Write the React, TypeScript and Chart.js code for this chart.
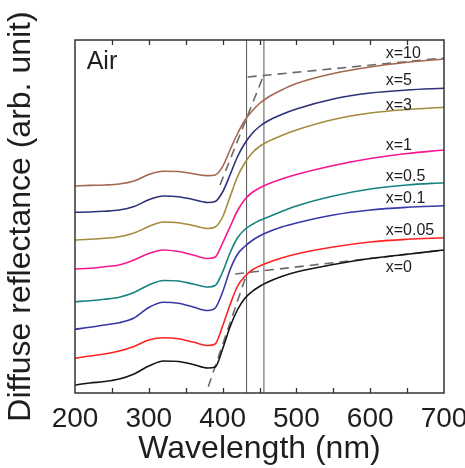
import React, { useEffect, useRef } from "react";
import { Chart, registerables } from "chart.js";

Chart.register(...registerables);

// Wavelength grid (nm)
const WAVELENGTH = [200, 220, 240, 260, 280, 300, 320, 340, 360, 380, 390, 400, 410, 420, 430, 440, 450, 460, 480, 500, 550, 600, 650, 700];

// Diffuse reflectance (arb. unit), curves stacked with offsets
const X10 = [20.7, 20.76, 20.8, 20.9, 21.2, 21.85, 22.17, 22.15, 21.92, 21.74, 21.8, 22.63, 24.3, 25.9, 27.25, 28.2, 28.95, 29.5, 30.3, 30.95, 31.95, 32.6, 33.07, 33.4];
const X5 = [18.07, 18.1, 18.17, 18.3, 18.65, 19.32, 19.7, 19.63, 19.35, 19.05, 19.15, 20.1, 21.8, 23.6, 24.95, 25.95, 26.65, 27.15, 27.85, 28.4, 29.4, 30.0, 30.3, 30.47];
const X3 = [15.3, 15.37, 15.47, 15.63, 16.0, 16.65, 17.1, 17.03, 16.75, 16.45, 16.6, 17.6, 19.6, 21.6, 23.0, 24.0, 24.65, 25.1, 25.75, 26.3, 27.35, 28.0, 28.35, 28.57];
const X1 = [12.4, 12.47, 12.63, 12.8, 13.3, 13.95, 14.3, 14.15, 13.8, 13.45, 13.6, 15.0, 16.6, 18.2, 19.35, 20.05, 20.5, 20.85, 21.4, 21.85, 22.75, 23.45, 23.95, 24.3];
const X05 = [9.13, 9.23, 9.37, 9.57, 10.05, 10.8, 11.25, 11.2, 10.9, 10.6, 10.75, 12.1, 14.0, 15.5, 16.35, 16.85, 17.25, 17.55, 18.15, 18.7, 19.7, 20.4, 20.8, 21.03];
const X01 = [6.37, 6.57, 6.8, 7.03, 7.5, 8.55, 9.07, 8.97, 8.6, 8.25, 8.5, 10.1, 12.3, 13.85, 14.65, 15.25, 15.7, 16.05, 16.6, 17.0, 17.8, 18.3, 18.57, 18.73];
const X005 = [3.47, 3.7, 3.9, 4.2, 4.65, 5.3, 5.53, 5.43, 5.1, 4.75, 4.9, 6.7, 8.8, 10.65, 11.65, 12.3, 12.7, 13.0, 13.5, 13.9, 14.6, 15.1, 15.37, 15.53];
const X0 = [0.8, 1.0, 1.15, 1.4, 1.9, 2.7, 3.2, 3.15, 2.85, 2.5, 2.6, 4.4, 6.6, 8.3, 9.45, 10.15, 10.65, 11.05, 11.65, 12.1, 12.85, 13.45, 13.88, 14.3];

const SERIES = [X10, X5, X3, X1, X05, X01, X005, X0];
const SERIES_LABELS = ["x=10", "x=5", "x=3", "x=1", "x=0.5", "x=0.1", "x=0.05", "x=0"];
const SERIES_COLORS = ["#A5674F", "#2E3178", "#A48C3C", "#F5188F", "#178282", "#3738A6", "#FF2222", "#151515"];

// Label anchors (wavelength of left edge, reflectance of baseline)
const LABEL_X = 621;
const LABEL_Y = [33.47, 30.8, 28.3, 24.3, 21.23, 18.97, 15.8, 12.13];
const PANEL_TEXT = "Air";
const PANEL_X = 215.8;
const PANEL_Y = 32.37;

// Tangent (dashed) construction lines
const UPPER_EDGE_X = [396.5, 454.7];
const UPPER_EDGE_Y = [20.8, 31.6];
const UPPER_BASE_X = [434, 700];
const UPPER_BASE_Y = [31.6, 33.5];
const LOWER_EDGE_X = [380.6, 433];
const LOWER_EDGE_Y = [0.63, 11.97];
const LOWER_BASE_X = [417, 700];
const LOWER_BASE_Y = [11.9, 14.3];

// Absorption-edge markers (nm)
const EDGE_MARKERS = [432.5, 456];

const X_MIN = 200;
const X_MAX = 700;
const Y_MIN = 0;
const Y_MAX = 35.3;
const TICK_STEP = 50;

const FONT = "'Liberation Sans', Arial, Helvetica, sans-serif";
const TEXT_COLOR = "#1e1e1e";

const pts = (xs: number[], ys: number[]) => xs.map((x, i) => ({ x, y: ys[i] }));

const decorPlugin = {
  id: "decor",
  afterDatasetsDraw(chart: any) {
    const { ctx, chartArea } = chart;
    const xs = chart.scales.x;
    const ys = chart.scales.y;
    ctx.save();
    // frame
    ctx.strokeStyle = "#333";
    ctx.lineWidth = 1.5;
    ctx.strokeRect(chartArea.left, chartArea.top, chartArea.right - chartArea.left, chartArea.bottom - chartArea.top);
    // inward ticks top & bottom
    ctx.lineWidth = 1.3;
    for (let v = X_MIN + TICK_STEP; v < X_MAX; v += TICK_STEP) {
      const px = Math.round(xs.getPixelForValue(v)) + 0.5;
      ctx.beginPath();
      ctx.moveTo(px, chartArea.bottom);
      ctx.lineTo(px, chartArea.bottom - 5);
      ctx.moveTo(px, chartArea.top);
      ctx.lineTo(px, chartArea.top + 5);
      ctx.stroke();
    }
    // series labels
    ctx.fillStyle = TEXT_COLOR;
    ctx.textBaseline = "alphabetic";
    ctx.textAlign = "left";
    ctx.font = `16px ${FONT}`;
    SERIES_LABELS.forEach((t, i) => {
      ctx.fillText(t, xs.getPixelForValue(LABEL_X), ys.getPixelForValue(LABEL_Y[i]));
    });
    ctx.font = `25px ${FONT}`;
    ctx.fillText(PANEL_TEXT, xs.getPixelForValue(PANEL_X), ys.getPixelForValue(PANEL_Y));
    ctx.restore();
  },
};

export default function App() {
  const ref = useRef<HTMLCanvasElement | null>(null);
  useEffect(() => {
    document.body.style.margin = "0";
    const canvas = ref.current;
    if (!canvas) return;
    const curveSets = SERIES.map((s, i) => ({
      label: SERIES_LABELS[i],
      data: pts(WAVELENGTH, s),
      borderColor: SERIES_COLORS[i],
      borderWidth: 1.6,
      pointRadius: 0,
      fill: false,
      cubicInterpolationMode: "monotone" as const,
    }));
    const dashed = (xs: number[], ys: number[]) => ({
      label: "tangent",
      data: pts(xs, ys),
      borderColor: "#6a6a6a",
      borderWidth: 1.6,
      borderDash: [9, 6],
      pointRadius: 0,
      fill: false,
      tension: 0,
    });
    const markers = EDGE_MARKERS.map((m) => ({
      label: "edge",
      data: pts([m, m], [Y_MIN, Y_MAX]),
      borderColor: "#555",
      borderWidth: 1,
      pointRadius: 0,
      fill: false,
      tension: 0,
    }));
    const chart = new Chart(canvas, {
      type: "line",
      data: {
        datasets: [
          ...curveSets,
          dashed(UPPER_EDGE_X, UPPER_EDGE_Y),
          dashed(UPPER_BASE_X, UPPER_BASE_Y),
          dashed(LOWER_EDGE_X, LOWER_EDGE_Y),
          dashed(LOWER_BASE_X, LOWER_BASE_Y),
          ...markers,
        ],
      },
      options: {
        animation: false,
        responsive: false,
        devicePixelRatio: 1,
        layout: { padding: { top: 40, right: 21, left: 0, bottom: 0 } },
        plugins: { legend: { display: false }, tooltip: { enabled: false } },
        scales: {
          x: {
            type: "linear",
            min: X_MIN,
            max: X_MAX,
            grid: { display: false, drawTicks: false },
            border: { display: false },
            ticks: {
              stepSize: TICK_STEP,
              autoSkip: false,
              maxRotation: 0,
              padding: 9,
              color: TEXT_COLOR,
              font: { size: 28, family: FONT },
              callback: (v: any) => (Number(v) % 100 === 0 ? String(v) : ""),
            },
            title: {
              display: true,
              text: "Wavelength (nm)",
              color: TEXT_COLOR,
              font: { size: 32, family: FONT },
              padding: { top: 0, bottom: 0 },
            },
            afterFit: (s: any) => {
              s.height = 75;
              s.paddingLeft = 0;
              s.paddingRight = 0;
            },
          },
          y: {
            type: "linear",
            min: Y_MIN,
            max: Y_MAX,
            grid: { display: false, drawTicks: false },
            border: { display: false },
            ticks: { display: false },
            title: {
              display: true,
              text: "Diffuse reflectance (arb. unit)",
              color: TEXT_COLOR,
              font: { size: 32, family: FONT },
              padding: { top: 2, bottom: 0 },
            },
            afterFit: (s: any) => {
              s.width = 75;
              s.paddingTop = 0;
              s.paddingBottom = 0;
            },
          },
        },
      },
      plugins: [decorPlugin],
    } as any);
    return () => chart.destroy();
  }, []);
  return (
    <div style={{ position: "absolute", left: 0, top: 0, width: 465, height: 468 }}>
      <canvas ref={ref} width={465} height={468} />
    </div>
  );
}
